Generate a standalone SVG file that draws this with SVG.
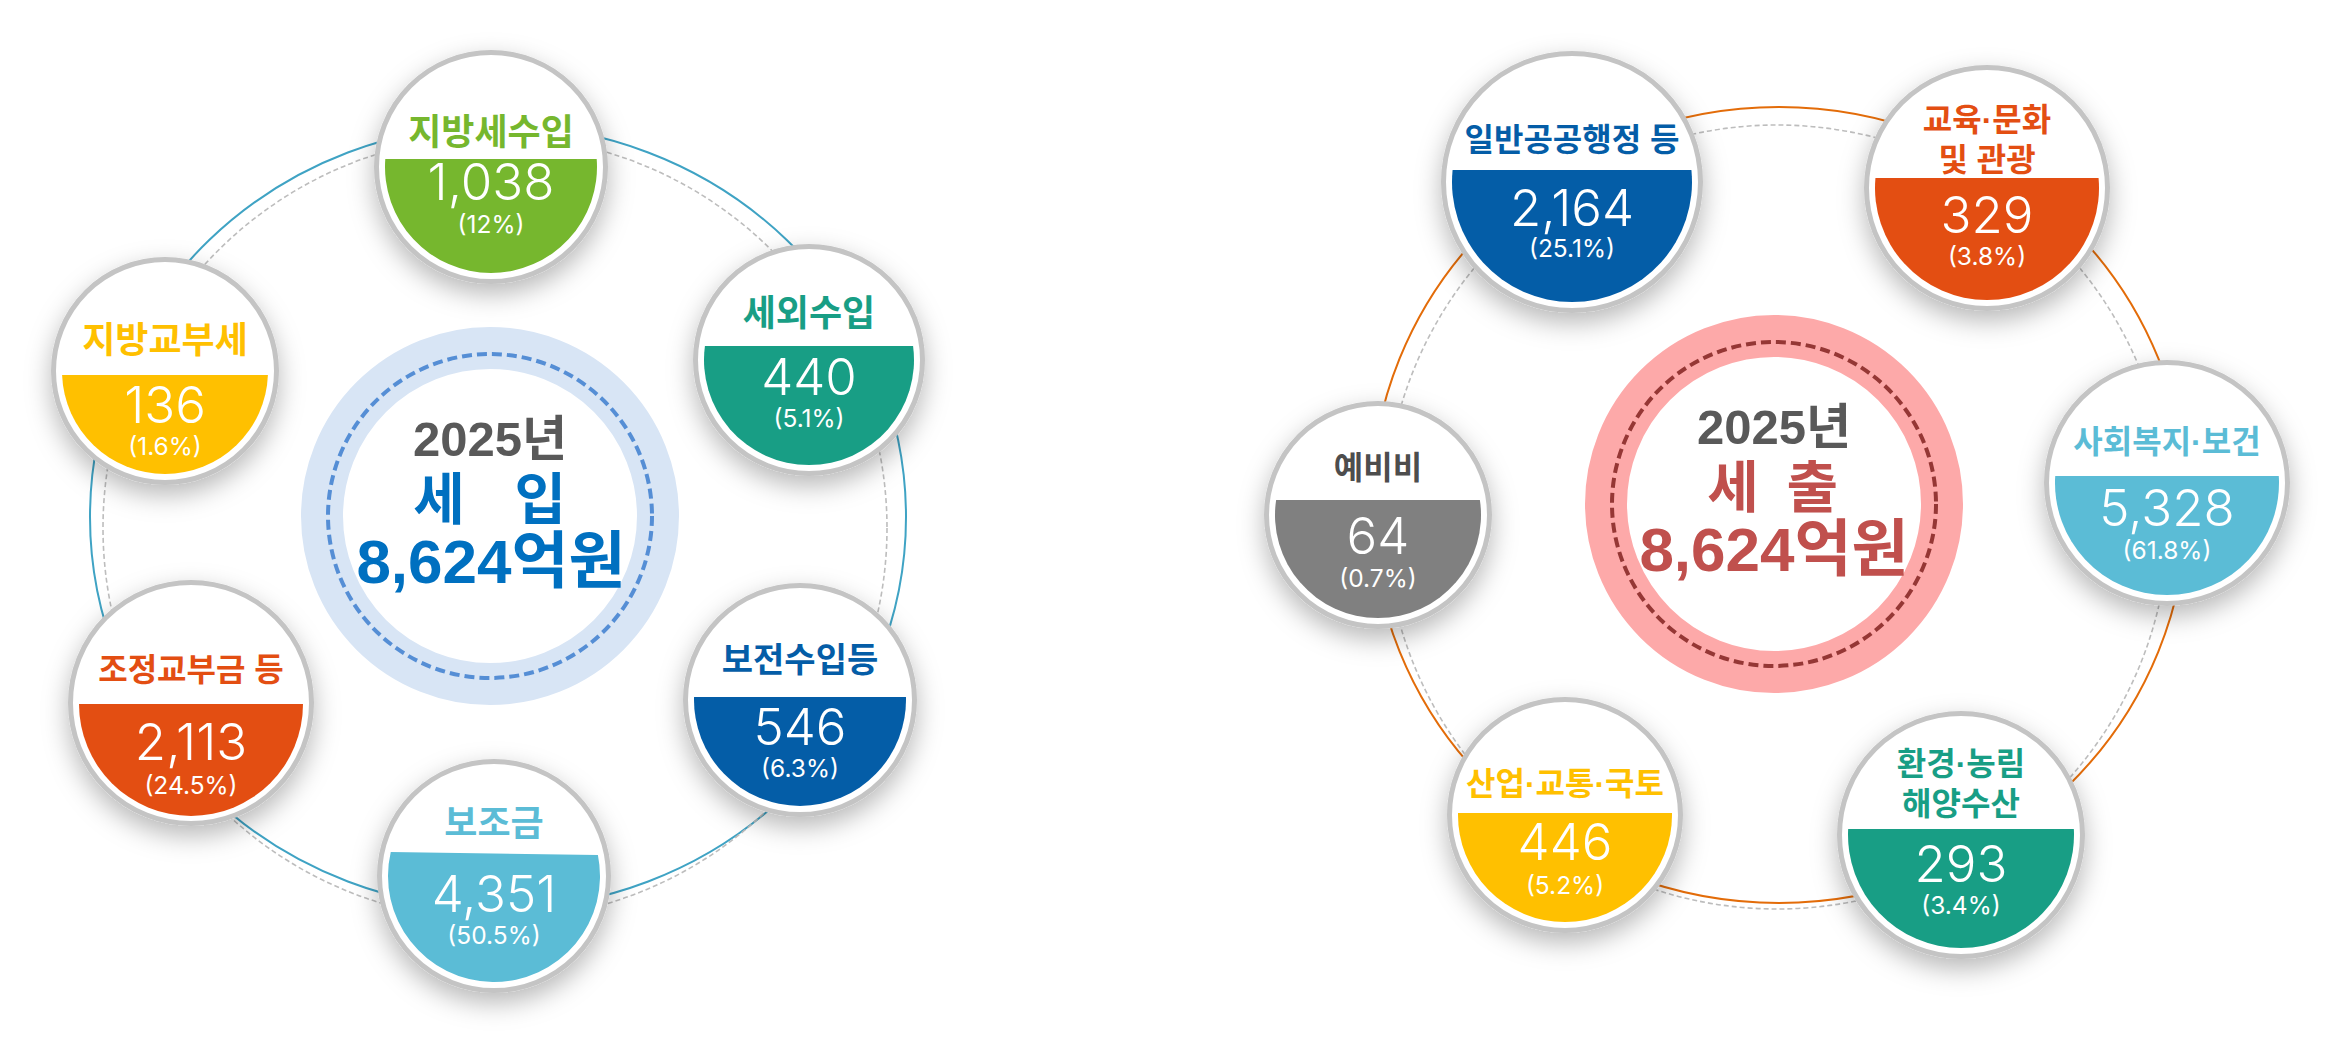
<svg xmlns="http://www.w3.org/2000/svg" width="2339" height="1047" viewBox="0 0 2339 1047">
<defs>
<filter id="sh" x="-40%" y="-40%" width="180%" height="190%">
<feDropShadow dx="0" dy="10" stdDeviation="13" flood-color="#000" flood-opacity="0.28"/>
</filter>
<style>
.ring{fill:#fff;stroke:#c4c4c4;stroke-width:5;filter:url(#sh)}
.lbl{font-family:"Liberation Sans","Noto Sans CJK KR",sans-serif;font-weight:700;text-anchor:middle}
.num{font-family:Inter,"Open Sans",sans-serif;font-weight:300;font-size:51px;fill:#fff;text-anchor:middle}
.pct{font-family:Inter,"Open Sans",sans-serif;font-weight:400;font-size:24.5px;fill:#fff;text-anchor:middle}
.ctr{font-family:"Liberation Sans","Noto Sans CJK KR",sans-serif;font-weight:700;text-anchor:middle}
.kor{font-family:"Noto Sans CJK KR",sans-serif;font-weight:700;text-anchor:middle}
.gd{fill:none;stroke:#bdbdbd;stroke-width:1.6;stroke-dasharray:5 3}
</style>
</defs>
<rect width="2339" height="1047" fill="#fff"/>

<g id="connectors">
<ellipse cx="498" cy="517" rx="408" ry="392" fill="none" stroke="#3FA3C4" stroke-width="2"/>
<circle class="gd" cx="495" cy="528" r="392"/>
<ellipse cx="1779" cy="505" rx="408" ry="398" fill="none" stroke="#E36C09" stroke-width="2"/>
<circle class="gd" cx="1777" cy="517" r="392"/>
</g>

<g id="center-revenue">
<circle cx="490" cy="516" r="168" fill="#fff" stroke="#D8E5F5" stroke-width="42"/>
<circle cx="490" cy="516" r="162" fill="none" stroke="#558ED5" stroke-width="4" stroke-dasharray="10 5"/>
<text class="ctr" x="490" y="456" font-size="49" fill="#595959">2025년</text>
<text class="kor" y="519" font-size="56" fill="#0070C0"><tspan x="439">세</tspan><tspan x="534"> 입</tspan></text>
<text class="ctr" x="491" y="583" font-size="62" fill="#0070C0">8,624억원</text>
</g>

<g id="center-expenditure">
<circle cx="1774" cy="504" r="168" fill="#fff" stroke="#FDA9A9" stroke-width="42"/>
<circle cx="1774" cy="504" r="162" fill="none" stroke="#953735" stroke-width="4" stroke-dasharray="10 5"/>
<text class="ctr" x="1774" y="444" font-size="49" fill="#595959">2025년</text>
<text class="kor" y="507" font-size="56" fill="#C0504D"><tspan x="1733">세</tspan><tspan x="1806"> 출</tspan></text>
<text class="ctr" x="1774" y="571" font-size="62" fill="#C0504D">8,624억원</text>
</g>

<g id="node-local-tax">
<circle class="ring" cx="491" cy="167" r="114.5"/>
<path d="M385.30,159 A106,106 0 1 0 596.70,159 Z" fill="#76B72E"/>
<text class="lbl" x="491" y="145" font-size="36" fill="#76B72E">지방세수입</text>
<text class="num" x="491" y="200">1,038</text>
<text class="pct" x="491" y="233">(12%)</text>
</g>

<g id="node-non-tax">
<circle class="ring" cx="809" cy="360" r="113.5"/>
<path d="M704.94,346 A105,105 0 1 0 913.06,346 Z" fill="#189E85"/>
<text class="lbl" x="809" y="326" font-size="36" fill="#189E85">세외수입</text>
<text class="num" x="809" y="395">440</text>
<text class="pct" x="809" y="427">(5.1%)</text>
</g>

<g id="node-grant-tax">
<circle class="ring" cx="165" cy="371" r="111.5"/>
<path d="M62.08,375 A103,103 0 0 0 267.92,375 Z" fill="#FFC000"/>
<text class="lbl" x="165" y="353" font-size="36" fill="#FFC000">지방교부세</text>
<text class="num" x="165" y="423">136</text>
<text class="pct" x="165" y="455">(1.6%)</text>
</g>

<g id="node-adjust">
<circle class="ring" cx="191" cy="703" r="120.5"/>
<path d="M79,704 A112,112 0 0 0 303,704 Z" fill="#E34E12"/>
<text class="lbl" x="191" y="681" font-size="32" fill="#E34E12">조정교부금 등</text>
<text class="num" x="191" y="760">2,113</text>
<text class="pct" x="191" y="794">(24.5%)</text>
</g>

<g id="node-subsidy">
<circle class="ring" cx="494" cy="876" r="114.5"/>
<path d="M390.75,852 A106,106 0 1 0 597.90,855 Z" fill="#5BBCD6"/>
<text class="lbl" x="494" y="836" font-size="36" fill="#5BBCD6">보조금</text>
<text class="num" x="494" y="912">4,351</text>
<text class="pct" x="494" y="944">(50.5%)</text>
</g>

<g id="node-preserve">
<circle class="ring" cx="800" cy="700" r="114.5"/>
<path d="M694.04,697 A106,106 0 1 0 905.96,697 Z" fill="#045DA7"/>
<text class="lbl" x="800" y="672" font-size="34" fill="#045DA7">보전수입등</text>
<text class="num" x="800" y="745">546</text>
<text class="pct" x="800" y="777">(6.3%)</text>
</g>

<g id="node-general-admin">
<circle class="ring" cx="1572" cy="182" r="128.5"/>
<path d="M1452.60,170 A120,120 0 1 0 1691.40,170 Z" fill="#045DA7"/>
<text class="lbl" x="1572" y="151" font-size="32" fill="#045DA7">일반공공행정 등</text>
<text class="num" x="1572" y="226">2,164</text>
<text class="pct" x="1572" y="257">(25.1%)</text>
</g>

<g id="node-education">
<circle class="ring" cx="1987" cy="188" r="120.5"/>
<path d="M1875.45,178 A112,112 0 1 0 2098.55,178 Z" fill="#E34E12"/>
<text class="lbl" x="1987" y="131" font-size="32" fill="#E34E12">교육·문화</text>
<text class="lbl" x="1987" y="171" font-size="32" fill="#E34E12">및 관광</text>
<text class="num" x="1987" y="233">329</text>
<text class="pct" x="1987" y="265">(3.8%)</text>
</g>

<g id="node-welfare">
<circle class="ring" cx="2167" cy="483" r="120.5"/>
<path d="M2055.22,476 A112,112 0 1 0 2278.78,476 Z" fill="#5BBCD6"/>
<text class="lbl" x="2167" y="453" font-size="32" fill="#5BBCD6">사회복지·보건</text>
<text class="num" x="2167" y="526">5,328</text>
<text class="pct" x="2167" y="559">(61.8%)</text>
</g>

<g id="node-reserve">
<circle class="ring" cx="1378" cy="515" r="111.5"/>
<path d="M1276.10,500 A103,103 0 1 0 1479.90,500 Z" fill="#808080"/>
<text class="lbl" x="1378" y="479" font-size="32" fill="#4D4D4D">예비비</text>
<text class="num" x="1378" y="554">64</text>
<text class="pct" x="1378" y="587">(0.7%)</text>
</g>

<g id="node-industry">
<circle class="ring" cx="1565" cy="815" r="115.5"/>
<path d="M1458.02,813 A107,107 0 1 0 1671.98,813 Z" fill="#FFC000"/>
<text class="lbl" x="1565" y="795" font-size="32" fill="#FFC000">산업·교통·국토</text>
<text class="num" x="1565" y="860">446</text>
<text class="pct" x="1565" y="894">(5.2%)</text>
</g>

<g id="node-environment">
<circle class="ring" cx="1961" cy="835" r="121.5"/>
<path d="M1848.16,829 A113,113 0 1 0 2073.84,829 Z" fill="#189E85"/>
<text class="lbl" x="1961" y="775" font-size="32" fill="#189E85">환경·농림</text>
<text class="lbl" x="1961" y="815" font-size="32" fill="#189E85">해양수산</text>
<text class="num" x="1961" y="882">293</text>
<text class="pct" x="1961" y="914">(3.4%)</text>
</g>
</svg>
